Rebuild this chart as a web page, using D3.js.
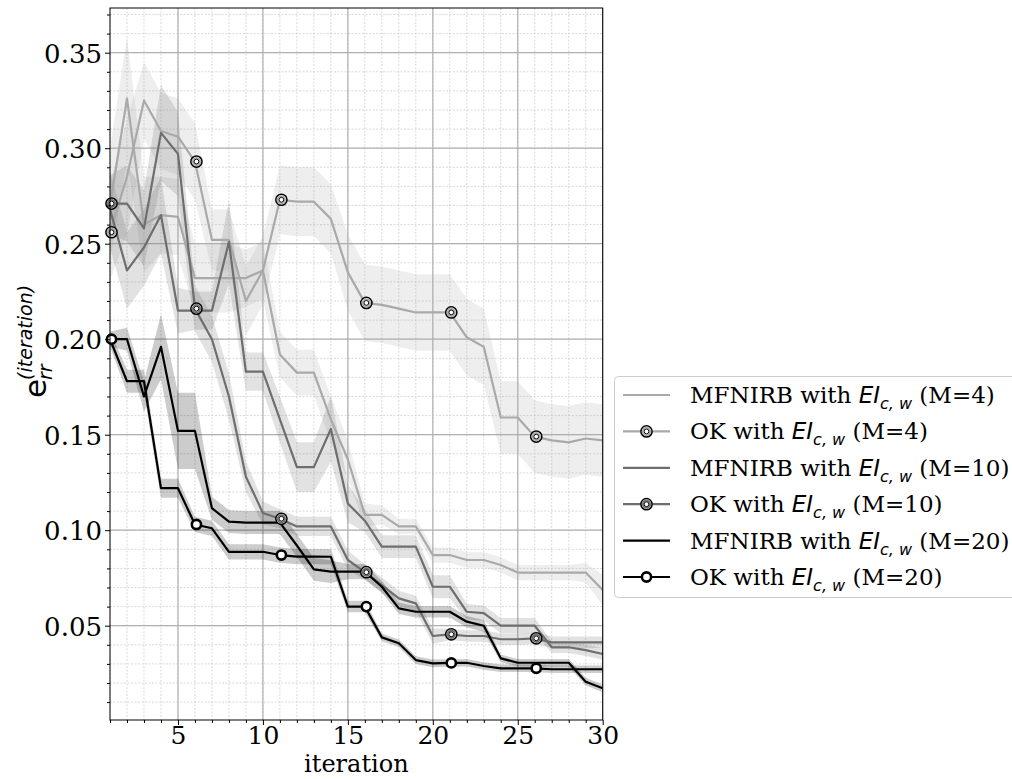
<!DOCTYPE html>
<html><head><meta charset="utf-8">
<script src="https://cdn.jsdelivr.net/npm/d3@7"></script>
<style>body{margin:0;background:#fff}svg{display:block}</style>
</head><body>
<svg id="chart" width="1012" height="779"></svg>
<script>
const iterations = [1,2,3,4,5,6,7,8,9,10,11,12,13,14,15,16,17,18,19,20,21,22,23,24,25,26,27,28,29,30];
const xTicks = [5,10,15,20,25,30];
const yTicks = [0.05,0.10,0.15,0.20,0.25,0.30,0.35];

const mf4  = [0.270,0.326,0.260,0.265,0.264,0.232,0.232,0.232,0.232,0.236,0.192,0.1825,0.1825,0.158,0.137,0.108,0.108,0.102,0.102,0.087,0.087,0.0844,0.0844,0.0818,0.0778,0.0778,0.0778,0.0778,0.0778,0.0687];
const ok4  = [0.256,0.285,0.325,0.309,0.306,0.293,0.252,0.252,0.220,0.236,0.273,0.272,0.272,0.263,0.235,0.219,0.218,0.216,0.214,0.214,0.214,0.201,0.196,0.159,0.159,0.149,0.147,0.146,0.148,0.147];
const mf10 = [0.268,0.236,0.248,0.265,0.215,0.215,0.215,0.251,0.183,0.183,0.158,0.133,0.133,0.153,0.114,0.105,0.0914,0.0914,0.0914,0.0704,0.0704,0.0573,0.0566,0.050,0.050,0.050,0.0387,0.0387,0.0372,0.0352];
const ok10 = [0.271,0.271,0.258,0.308,0.297,0.216,0.200,0.170,0.128,0.109,0.106,0.102,0.102,0.102,0.0844,0.078,0.0713,0.0643,0.0617,0.0446,0.0455,0.0446,0.0446,0.0429,0.0429,0.0434,0.0413,0.0413,0.0413,0.0413];
const mf20 = [0.200,0.200,0.170,0.196,0.152,0.152,0.1115,0.1045,0.104,0.104,0.104,0.092,0.0795,0.0783,0.0783,0.0783,0.0704,0.0591,0.0573,0.0573,0.0573,0.0521,0.050,0.0329,0.0306,0.0306,0.0306,0.0306,0.0207,0.0172];
const ok20 = [0.200,0.178,0.178,0.122,0.122,0.103,0.101,0.0887,0.0887,0.0887,0.087,0.0862,0.0862,0.0861,0.060,0.060,0.0439,0.0408,0.032,0.0303,0.0305,0.0306,0.0289,0.0277,0.0277,0.0277,0.0272,0.0272,0.0272,0.0272];

const mf4Std  = [0.030,0.032,0.025,0.020,0.020,0.018,0.018,0.018,0.015,0.015,0.012,0.012,0.012,0.012,0.010,0.006,0.005,0.004,0.004,0.004,0.004,0.004,0.004,0.004,0.004,0.004,0.004,0.004,0.005,0.008];
const ok4Std  = [0.025,0.030,0.020,0.020,0.020,0.020,0.016,0.016,0.018,0.018,0.018,0.018,0.018,0.018,0.020,0.020,0.020,0.020,0.020,0.020,0.020,0.020,0.020,0.019,0.019,0.019,0.019,0.019,0.019,0.019];
const mf10Std = [0.020,0.020,0.020,0.020,0.012,0.010,0.010,0.022,0.010,0.010,0.012,0.013,0.013,0.017,0.010,0.006,0.006,0.006,0.006,0.006,0.006,0.004,0.004,0.004,0.004,0.004,0.003,0.003,0.003,0.003];
const ok10Std = [0.015,0.020,0.020,0.025,0.022,0.012,0.012,0.012,0.008,0.006,0.005,0.005,0.005,0.005,0.005,0.004,0.004,0.004,0.004,0.004,0.003,0.003,0.003,0.003,0.003,0.003,0.003,0.003,0.003,0.003];
const mf20Std = [0.004,0.006,0.008,0.017,0.020,0.020,0.006,0.006,0.006,0.006,0.006,0.006,0.006,0.006,0.004,0.004,0.003,0.003,0.003,0.003,0.003,0.003,0.003,0.002,0.002,0.002,0.002,0.002,0.002,0.002];
const ok20Std = [0.004,0.006,0.006,0.005,0.005,0.004,0.004,0.004,0.004,0.004,0.004,0.004,0.004,0.004,0.003,0.003,0.002,0.002,0.002,0.002,0.002,0.002,0.002,0.002,0.002,0.002,0.002,0.002,0.002,0.002];

const seriesNames = ["MFNIRB with ","OK with ","MFNIRB with ","OK with ","MFNIRB with ","OK with "];
const seriesM = ["(M=4)","(M=4)","(M=10)","(M=10)","(M=20)","(M=20)"];

const C4 = "#a9a9a9", C10 = "#6e6e6e", C20 = "#000000";
const series = [
  {v: mf4, s: mf4Std, c: C4, mk: false},
  {v: ok4, s: ok4Std, c: C4, mk: true},
  {v: mf10, s: mf10Std, c: C10, mk: false},
  {v: ok10, s: ok10Std, c: C10, mk: true},
  {v: mf20, s: mf20Std, c: C20, mk: false},
  {v: ok20, s: ok20Std, c: C20, mk: true},
];

const L = 110, R = 602.7, T = 8, B = 720;
const svg = d3.select("#chart");
const x = d3.scaleLinear().domain([1,30]).range([L,R]);
const y = d3.scaleLinear().domain([0.00063,0.3734]).range([B,T]);

const serif = "'DejaVu Serif', serif";
const sans = "'DejaVu Sans', sans-serif";

// grid
const g = svg.append("g");
const minorX = d3.range(1,31);
const minorY = d3.range(1,38).map(d=>d/100);
g.selectAll(".mx").data(minorX).enter().append("line")
  .attr("x1",d=>x(d)).attr("x2",d=>x(d)).attr("y1",T).attr("y2",B)
  .attr("stroke","#cfcfcf").attr("stroke-width",0.8).attr("stroke-dasharray","2,1.5");
g.selectAll(".my").data(minorY).enter().append("line")
  .attr("x1",L).attr("x2",R).attr("y1",d=>y(d)).attr("y2",d=>y(d))
  .attr("stroke","#cfcfcf").attr("stroke-width",0.8).attr("stroke-dasharray","2,1.5");
g.selectAll(".Mx").data(xTicks).enter().append("line")
  .attr("x1",d=>x(d)).attr("x2",d=>x(d)).attr("y1",T).attr("y2",B)
  .attr("stroke","#b0b0b0").attr("stroke-width",1.2);
g.selectAll(".My").data(yTicks).enter().append("line")
  .attr("x1",L).attr("x2",R).attr("y1",d=>y(d)).attr("y2",d=>y(d))
  .attr("stroke","#b0b0b0").attr("stroke-width",1.2);

svg.append("clipPath").attr("id","clip").append("rect")
  .attr("x",L).attr("y",T).attr("width",R-L).attr("height",B-T);
const plot = svg.append("g").attr("clip-path","url(#clip)");

// bands
const area = d3.area().x((d,i)=>x(iterations[i])).y0(d=>y(d[0]-d[1])).y1(d=>y(d[0]+d[1]));
series.forEach(s=>{
  plot.append("path").datum(s.v.map((v,i)=>[v,s.s[i]]))
    .attr("d",area).attr("fill",s.c).attr("fill-opacity",0.2).attr("stroke","none");
});
// lines
const line = d3.line().x((d,i)=>x(iterations[i])).y(d=>y(d));
series.forEach(s=>{
  plot.append("path").datum(s.v).attr("d",line).attr("fill","none")
    .attr("stroke",s.c).attr("stroke-width",2.2).attr("stroke-linejoin","round");
});
// markers
function marker(sel, cx, cy, c){
  if (c === C20){
    sel.append("circle").attr("cx",cx).attr("cy",cy).attr("r",4.6)
      .attr("fill","#fff").attr("stroke","#000").attr("stroke-width",2.6);
  } else {
    sel.append("circle").attr("cx",cx).attr("cy",cy).attr("r",5.6)
      .attr("fill","#fff").attr("stroke","#000").attr("stroke-width",1.5);
    sel.append("circle").attr("cx",cx).attr("cy",cy).attr("r",3.7)
      .attr("fill","#fff").attr("stroke",c).attr("stroke-width",1.8);
    sel.append("circle").attr("cx",cx).attr("cy",cy).attr("r",2.4)
      .attr("fill","#fff").attr("stroke","#000").attr("stroke-width",1);
  }
}
const mg = svg.append("g");
series.forEach(s=>{
  if(!s.mk) return;
  s.v.forEach((v,i)=>{ if(i%5===0) marker(mg, x(iterations[i])+1.5, y(v), s.c); });
});

// frame
svg.append("rect").attr("x",L).attr("y",T).attr("width",R-L).attr("height",B-T)
  .attr("fill","none").attr("stroke","#000").attr("stroke-width",1);

// axes
const xAxis = d3.axisBottom(x).tickValues(xTicks).tickSize(5).tickFormat(d3.format("d"));
const xa = svg.append("g").attr("transform",`translate(0,${B})`).call(xAxis);
xa.select(".domain").remove();
xa.selectAll("text").attr("font-family",serif).attr("font-size",25).attr("fill","#000").attr("dy","0.64em");
const xMinor = d3.axisBottom(x).tickValues(minorX.filter(d=>d%5!==0)).tickSize(3).tickFormat("");
svg.append("g").attr("transform",`translate(0,${B})`).call(xMinor).select(".domain").remove();

const yAxis = d3.axisLeft(y).tickValues(yTicks).tickSize(5).tickFormat(d3.format(".2f"));
const ya = svg.append("g").attr("transform",`translate(${L},0)`).call(yAxis);
ya.select(".domain").remove();
ya.selectAll("text").attr("font-family",serif).attr("font-size",26).attr("fill","#000").attr("dy","0.36em");
const yMinor = d3.axisLeft(y).tickValues(minorY.filter(d=>Math.round(d*100)%5!==0)).tickSize(3).tickFormat("");
svg.append("g").attr("transform",`translate(${L},0)`).call(yMinor).select(".domain").remove();

// x label
svg.append("text").attr("x",(L+R)/2).attr("y",772).attr("text-anchor","middle")
  .attr("font-family",serif).attr("font-size",24).text("iteration");

// y label
const yl = svg.append("g").attr("transform","translate(46,398) rotate(-90)");
yl.append("text").attr("x",0).attr("y",0).attr("font-family",sans).attr("font-size",31).text("e");
yl.append("text").attr("x",18).attr("y",-14).attr("font-family",sans).attr("font-style","italic").attr("font-size",19).text("(iteration)");
yl.append("text").attr("x",18).attr("y",6).attr("font-family",sans).attr("font-style","italic").attr("font-size",19).text("rr");

// legend
const lg = svg.append("g");
lg.append("rect").attr("x",614.5).attr("y",376.5).attr("width",410).attr("height",221).attr("rx",4)
  .attr("fill","#fff").attr("fill-opacity",0.8).attr("stroke","#cccccc").attr("stroke-width",1);
const rowY = d3.scaleLinear().domain([0,5]).range([395,577]);
series.forEach((s,i)=>{
  const cy = rowY(i);
  lg.append("line").attr("x1",623).attr("x2",670).attr("y1",cy).attr("y2",cy)
    .attr("stroke",s.c).attr("stroke-width",2.2);
  if (s.mk) marker(lg, 646.5, cy, s.c);
  const t = lg.append("text").attr("x",690).attr("y",cy+8).attr("font-family",serif).attr("font-size",23);
  t.append("tspan").text(seriesNames[i]);
  t.append("tspan").attr("font-family",sans).attr("font-style","italic").text("EI");
  t.append("tspan").attr("font-family",sans).attr("font-style","italic").attr("font-size",16).attr("dy",6).text("c, w");
  t.append("tspan").attr("dy",-6).text(" " + seriesM[i]);
});
</script>
</body></html>
